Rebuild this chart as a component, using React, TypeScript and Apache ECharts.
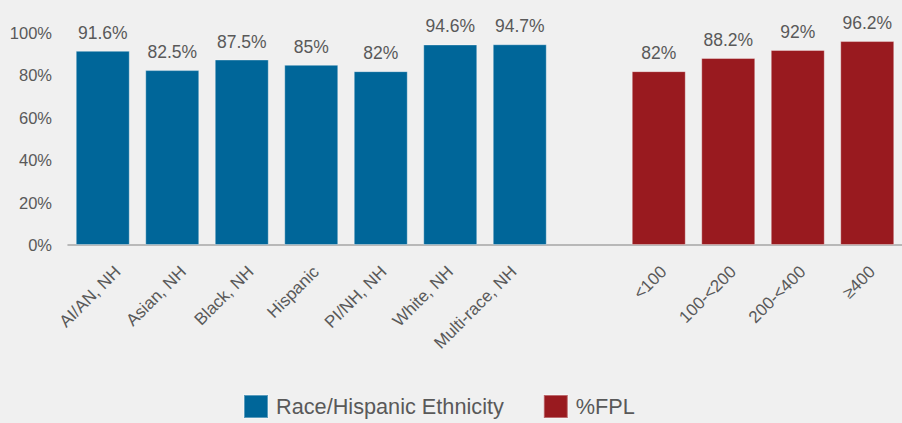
import React, { useEffect, useRef } from "react";
import * as echarts from "echarts";

const categories = [
  "AI/AN, NH",
  "Asian, NH",
  "Black, NH",
  "Hispanic",
  "PI/NH, NH",
  "White, NH",
  "Multi-race, NH",
  "",
  "<100",
  "100-<200",
  "200-<400",
  "≥400",
];
const raceValues = [91.6, 82.5, 87.5, 85, 82, 94.6, 94.7, null, null, null, null, null];
const fplValues = [null, null, null, null, null, null, null, null, 82, 88.2, 92, 96.2];
const yTicks = { min: 0, max: 100, interval: 20 };
const seriesNames = ["Race/Hispanic Ethnicity", "%FPL"];
// horizontal nudge of each rotated category label (px), as in the reference
const labelNudge = [15, 11, 9, 5, 3, 0, -6, 0, 5, 5, 5, 5];

const FONT = "'Liberation Sans', Arial, sans-serif";
const TEXT = "#595959";
const D_MAX = 15;
const D_MIN = -15;
const CAT_FONT = 17;

export default function App() {
  const ref = useRef<HTMLDivElement>(null);
  useEffect(() => {
    if (!ref.current) return;
    const chart = echarts.init(ref.current, null, { renderer: "svg" });
    const label = {
      show: true,
      position: "top" as const,
      distance: 9,
      color: TEXT,
      fontFamily: FONT,
      fontSize: 17.5,
      formatter: (p: any) => `${p.value}%`,
    };
    const rich: Record<string, any> = {};
    categories.forEach((_c, i) => {
      const dx = labelNudge[i];
      const T = 1.4142 * (dx - D_MIN);
      const R = 0.7071 * (D_MAX - dx);
      rich["n" + i] = {
        padding: [T, R, 0, 0],
        fontSize: CAT_FONT,
        fontFamily: FONT,
        color: TEXT,
      };
    });
    chart.setOption({
      animation: false,
      backgroundColor: "#f0f0f0",
      textStyle: { fontFamily: FONT },
      grid: { left: 68, right: -2, top: 33, bottom: 178, containLabel: false },
      legend: {
        top: 394,
        left: 243,
        padding: 0,
        itemWidth: 24,
        itemHeight: 23,
        itemGap: 39,
        icon: "rect",
        textStyle: { color: TEXT, fontSize: 21.7, fontFamily: FONT, padding: [0, 0, 0, 3] },
        data: seriesNames,
      },
      xAxis: {
        type: "category",
        data: categories,
        axisLine: { lineStyle: { color: "#a6a6a6", width: 1.5 } },
        axisTick: { show: false },
        axisLabel: {
          interval: 0,
          rotate: 45,
          margin: 9,
          color: TEXT,
          fontSize: CAT_FONT,
          fontFamily: FONT,
          formatter: (value: string, index: number) =>
            value ? `{n${index}|${value}}` : "",
          rich,
        },
      },
      yAxis: {
        type: "value",
        min: yTicks.min,
        max: yTicks.max,
        interval: yTicks.interval,
        splitLine: { show: false },
        axisLine: { show: false },
        axisTick: { show: false },
        axisLabel: {
          margin: 16,
          color: TEXT,
          fontSize: 16.5,
          fontFamily: FONT,
          formatter: "{value}%",
        },
      },
      series: [
        {
          name: seriesNames[0],
          type: "bar",
          data: raceValues,
          barWidth: 54,
          barGap: "-100%",
          itemStyle: { color: "#006699", borderColor: "rgba(255,255,255,0.35)", borderWidth: 1 },
          label,
        },
        {
          name: seriesNames[1],
          type: "bar",
          data: fplValues,
          barWidth: 54,
          barGap: "-100%",
          itemStyle: { color: "#991a1f", borderColor: "rgba(255,255,255,0.35)", borderWidth: 1 },
          label,
        },
      ],
    });
    return () => chart.dispose();
  }, []);
  return (
    <div
      ref={ref}
      style={{ position: "fixed", left: 0, top: 0, width: 902, height: 423 }}
    />
  );
}
